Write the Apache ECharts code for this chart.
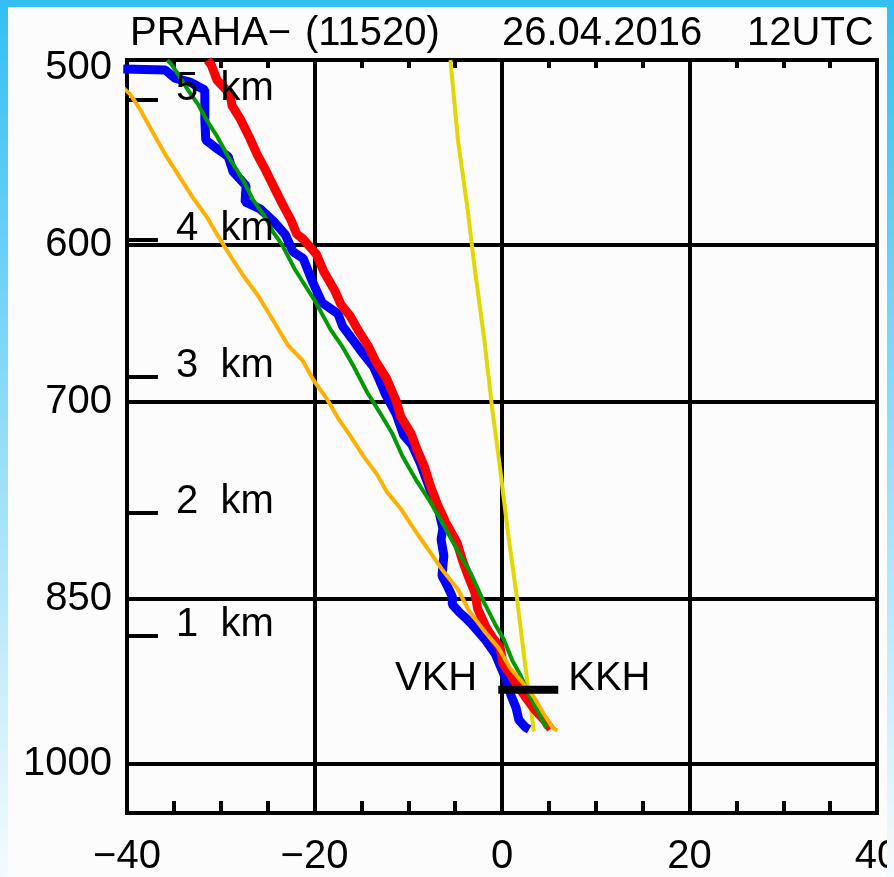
<!DOCTYPE html>
<html>
<head>
<meta charset="utf-8">
<title>PRAHA 11520</title>
<script src="https://cdn.jsdelivr.net/npm/echarts@6/dist/echarts.min.js"></script>
<style>
    html, body { margin: 0; padding: 0; background: #fcfcfc; }
    #sounding { width: 894px; height: 877px; }
</style>
</head>
<body>
<div id="sounding"></div>
<script>
//title pieces
var titleParts = ['PRAHA\u2212', '(11520)', '26.04.2016', '12UTC'];
//labelled pressure levels (hPa)
var pressureLevels = [500, 600, 700, 850, 1000];
//height marks
var heightKm = [1, 2, 3, 4, 5];
var heightPressure = [882, 781, 683, 597, 520];
//curves as [temperature C, pressure hPa]
var temperature = [
    [-31.4, 500], [-31.0, 502.5], [-30.4, 510], [-29.0, 517], [-28.8, 523], [-27.9, 530],
    [-27.0, 539], [-26.1, 549], [-25.2, 557.5], [-24.3, 567], [-23.4, 576.5], [-22.5, 585.5],
    [-21.9, 593.5], [-21.2, 596.5], [-19.8, 605.5], [-19.0, 616], [-17.8, 628], [-17.2, 636],
    [-16.2, 643.5], [-15.3, 653], [-14.3, 662.5], [-13.5, 672.5], [-12.3, 684.5], [-11.3, 699.5],
    [-10.8, 710.5], [-9.7, 722.5], [-9.0, 735], [-8.3, 746], [-7.6, 761.5], [-6.9, 774.5],
    [-6.0, 788.5], [-4.8, 804.5], [-4.2, 819], [-3.5, 833.5], [-2.9, 845], [-2.6, 858.5],
    [-1.7, 874.5], [-1.0, 883.5], [-0.2, 892], [0.1, 906], [1.2, 920], [2.5, 936.5],
    [3.4, 947.5], [4.5, 958], [5.2, 966.5]
];
var dewPoint = [
    [-40.4, 504.5], [-35.9, 505], [-34.9, 509], [-33.3, 511], [-31.7, 515], [-31.7, 530],
    [-31.6, 541], [-30.7, 544.5], [-29.2, 550], [-28.7, 558], [-27.3, 566], [-27.4, 575],
    [-25.8, 579], [-24.4, 586], [-23.1, 594], [-22.3, 604], [-21.2, 608], [-20.3, 621],
    [-19.2, 635], [-17.5, 642], [-17.0, 650], [-16.0, 658], [-14.8, 668], [-13.7, 676.5],
    [-13.0, 686.5], [-12.4, 695.5], [-11.3, 708.5], [-10.5, 723.5], [-9.6, 730.5], [-8.7, 744],
    [-7.7, 763], [-6.8, 778], [-6.3, 793.5], [-6.5, 802], [-6.2, 815], [-6.4, 831],
    [-5.8, 840], [-5.3, 848.5], [-5.3, 855], [-4.5, 862], [-3.8, 867], [-3.2, 872],
    [-1.8, 885], [-0.7, 898], [0.4, 920], [1.0, 936], [1.5, 946.5], [1.8, 958],
    [2.5, 965], [2.9, 967]
];
var greenCurve = [
    [-35.7, 500], [-35.2, 502.5], [-34.7, 506], [-33.5, 515], [-32.4, 522.5], [-31.5, 530.5],
    [-30.4, 539], [-29.2, 550], [-28.3, 557], [-27.4, 565], [-26.6, 573.5], [-25.1, 585],
    [-24.4, 592.5], [-23.5, 599.5], [-22.1, 614.5], [-19.9, 634.5], [-18.3, 652], [-17.1, 662.5],
    [-15.8, 676.5], [-14.4, 693.5], [-13.1, 707], [-11.7, 722.5], [-10.6, 739], [-9.1, 757],
    [-7.8, 771], [-6.4, 788.5], [-4.6, 812.5], [-3.3, 829.5], [-2.0, 852], [-0.75, 871.5],
    [0.2, 885], [1.1, 903.5], [1.9, 915.5], [3.0, 936.5], [3.8, 949.5], [4.7, 965.5]
];
var orangeCurve = [
    [-40.6, 513], [-39.6, 517.5], [-38.6, 525], [-37.3, 536.5], [-35.9, 549], [-34.2, 562.5],
    [-33.0, 572.5], [-31.5, 583.5], [-30.2, 595.5], [-28.8, 608], [-27.4, 620], [-26.1, 630],
    [-24.7, 643.5], [-22.8, 662.5], [-21.3, 672], [-20.1, 685.5], [-18.7, 698], [-17.5, 711.5],
    [-16.4, 722], [-14.8, 738.5], [-13.3, 752.5], [-12.3, 765], [-10.8, 778], [-9.5, 792.5],
    [-8.0, 808.5], [-6.4, 826], [-4.7, 842.5], [-3.5, 860.5], [-1.9, 877.5], [-0.4, 892],
    [0.85, 910], [2.1, 922.5], [3.4, 936.5], [4.4, 951.5], [5.4, 965.5], [5.9, 968]
];
var yellowCurve = [
    [-5.5, 500], [-4.7, 541], [-3.7, 578], [-2.9, 614.5], [-1.9, 658], [-1.1, 702],
    [-0.2, 748], [0.65, 797.5], [1.6, 850], [2.45, 906], [3.4, 969]
];
//condensation levels
var condensationLabels = ['VKH', 'KKH'];
var condensationPressure = 930;
var condensationTemp = [-0.4, 6.0];

var FONT = '"Liberation Sans", Arial, sans-serif';
var chart = echarts.init(document.getElementById('sounding'));

var lineSeries = function (name, data, color, width, z) {
    return {
        name: name,
        type: 'line',
        data: data,
        z: z,
        symbol: 'none',
        silent: true,
        lineStyle: {color: color, width: width}
    };
};

var tempAxis = function (position, tickLength, main) {
    return {
        type: 'value',
        position: position,
        min: -40,
        max: 40,
        interval: 20,
        axisLine: {show: false},
        axisTick: {show: true, inside: true, length: tickLength, lineStyle: {color: '#000', width: 4}},
        minorTick: {show: true, splitNumber: 4, length: tickLength, lineStyle: {color: '#000', width: 4}},
        splitLine: {show: main, lineStyle: {color: '#000', width: 4}},
        axisLabel: {
            show: main,
            margin: 24,
            color: '#000',
            fontSize: 40,
            fontFamily: FONT,
            formatter: function (v) {
                return String(v).replace('-', '\u2212');
            }
        }
    };
};

var gridLevels = pressureLevels.slice(1).map(function (p) {
    return {yAxis: p};
});
var heightTicks = heightPressure.map(function (p) {
    return [{coord: [-40, p]}, {coord: [-36.7, p]}];
});

var option = {
    animation: false,
    backgroundColor: '#fcfcfc',
    grid: {
        left: 127, top: 60, width: 750, height: 753,
        outerBoundsMode: 'none',
        containLabel: false,
        show: true, borderColor: '#000', borderWidth: 4, backgroundColor: 'transparent'
    },
    xAxis: [tempAxis('bottom', 12, true), tempAxis('top', 8, false)],
    yAxis: {
        type: 'log',
        logBase: 10,
        min: 500,
        max: 1050,
        inverse: true,
        axisLine: {show: false},
        axisTick: {show: false},
        axisLabel: {show: false},
        splitLine: {show: false}
    },
    series: [
        {
            name: 'grid',
            type: 'line',
            data: [],
            z: 1,
            markLine: {
                z: 1,
                silent: true,
                symbol: 'none',
                label: {show: false},
                lineStyle: {color: '#000', width: 4, type: 'solid'},
                data: gridLevels.concat(heightTicks)
            }
        },
        lineSeries('yellow', yellowCurve, '#e0d800', 4, 3),
        lineSeries('dew point', dewPoint, '#0000ff', 9, 4),
        lineSeries('temperature', temperature, '#ff0000', 9, 5),
        lineSeries('green', greenCurve, '#009a00', 4, 6),
        lineSeries('orange', orangeCurve, '#ffb000', 4, 7),
        lineSeries('condensation', condensationTemp.map(function (t) {
            return [t, condensationPressure];
        }), '#000', 8, 10)
    ]
};
chart.setOption(option);

//texts placed from the axes
var toPx = function (t, p) {
    return chart.convertToPixel({seriesIndex: 1}, [t, p]);
};
var text = function (str, x, y, align) {
    return {
        type: 'text',
        x: x,
        y: y,
        z: 50,
        silent: true,
        style: {text: str, fill: '#000', font: '40px ' + FONT, align: align, verticalAlign: 'middle'}
    };
};
var bandFill = new echarts.graphic.LinearGradient(0, 0, 0, 1, [
    {offset: 0, color: '#33bff2'},
    {offset: 1, color: '#f5fbfe'}
]);
var graphics = [
    {type: 'rect', z: 100, silent: true, shape: {x: 0, y: 0, width: 894, height: 7}, style: {fill: '#33bff2'}},
    {type: 'rect', z: 100, silent: true, shape: {x: 0, y: 0, width: 8, height: 877}, style: {fill: bandFill}},
    {type: 'rect', z: 100, silent: true, shape: {x: 887, y: 0, width: 7, height: 877}, style: {fill: bandFill}}
];
var titleX = [130, 305, 502, 747];
titleParts.forEach(function (s, i) {
    graphics.push(text(s, titleX[i], 34, 'left'));
});
pressureLevels.forEach(function (p) {
    var y = toPx(0, p)[1];
    graphics.push(text(String(p), 112, Math.max(y, 68), 'right'));
});
heightKm.forEach(function (h, i) {
    var y = toPx(0, heightPressure[i])[1];
    graphics.push(text(h + '  km', 176, y - 11, 'left'));
});
var barL = toPx(condensationTemp[0], condensationPressure);
var barR = toPx(condensationTemp[1], condensationPressure);
graphics.push(text(condensationLabels[0], barL[0] - 21, barL[1] - 11, 'right'));
graphics.push(text(condensationLabels[1], barR[0] + 10, barR[1] - 11, 'left'));
chart.setOption({graphic: graphics});
</script>
</body>
</html>
